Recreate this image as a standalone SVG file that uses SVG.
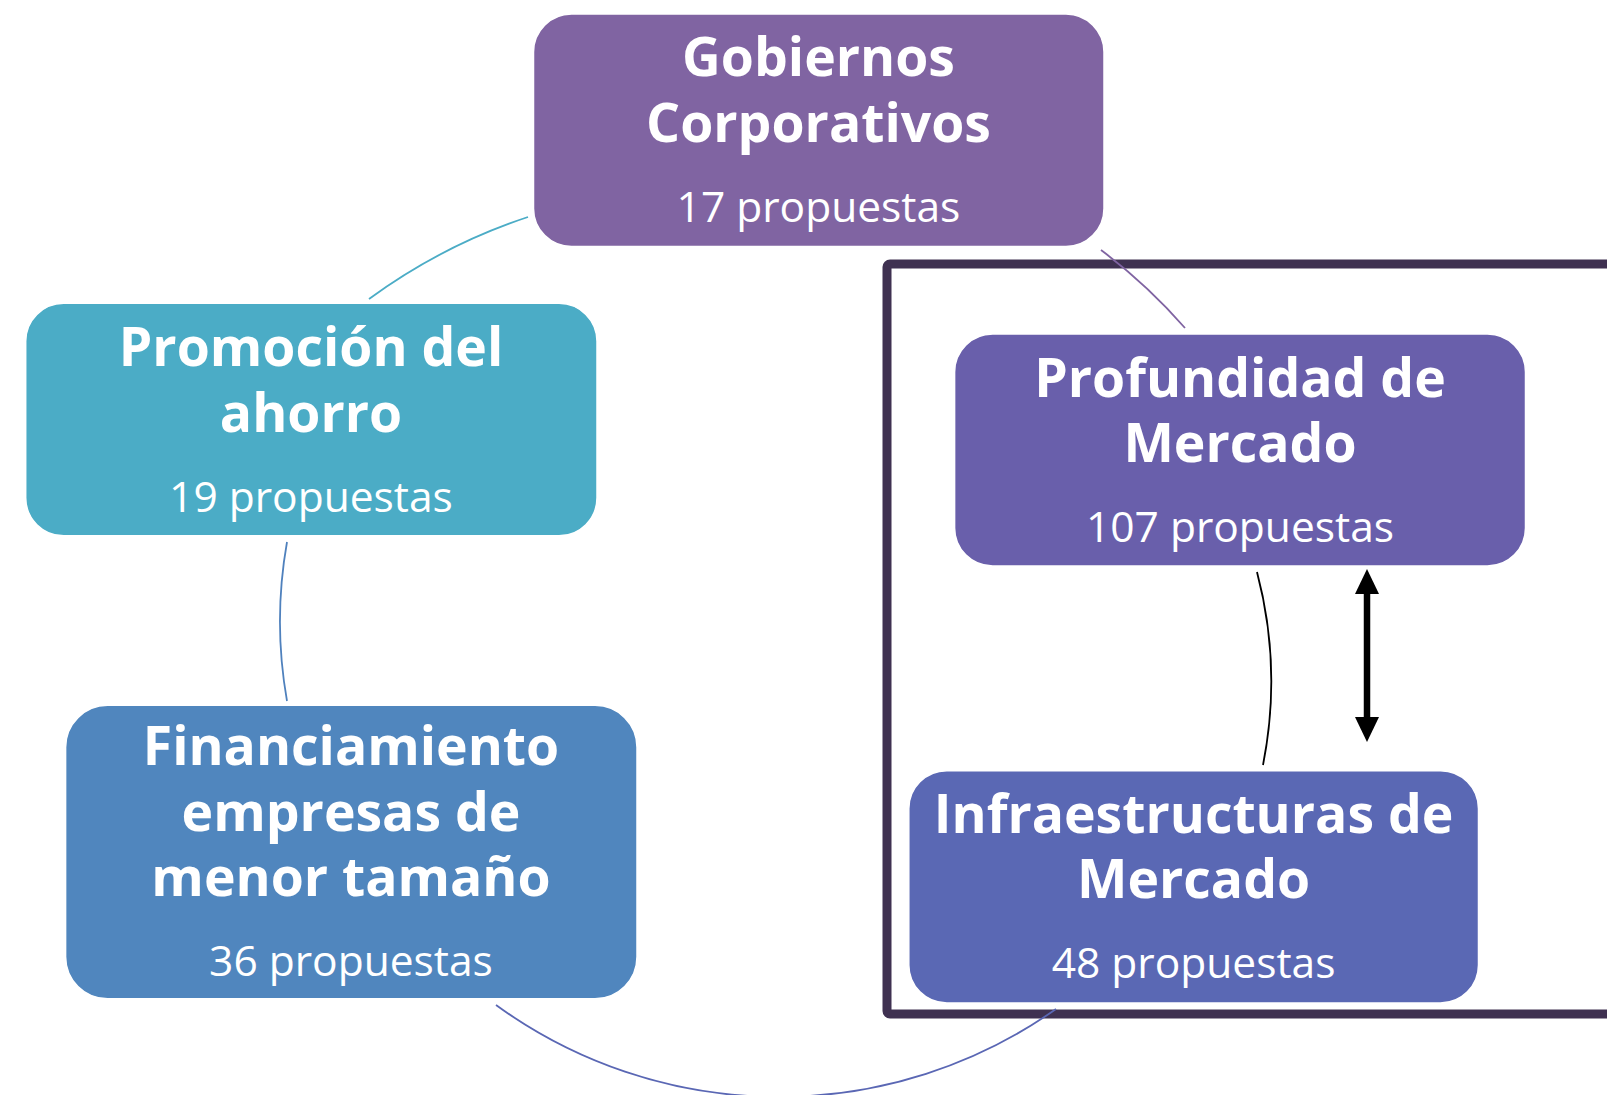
<svg xmlns="http://www.w3.org/2000/svg" width="1607" height="1095" viewBox="0 0 1607 1095">
  <style>
    .box { stroke: #ffffff; stroke-width: 1.5; }
    .t { font-family: "Open Sans", "Noto Sans", "DejaVu Sans", sans-serif; font-weight: 700; font-size: 53.5px; fill: #ffffff; text-anchor: middle; }
    .n { font-family: "Open Sans", "Noto Sans", "DejaVu Sans", sans-serif; font-weight: 400; font-size: 42.5px; fill: #ffffff; text-anchor: middle; }
    .arc { fill: none; stroke-width: 1.8; }
  </style>
  <defs>
    <marker id="head" viewBox="0 0 25 24" refX="1" refY="12" markerUnits="userSpaceOnUse" markerWidth="25" markerHeight="24" orient="auto-start-reverse">
      <path d="M0,0 L25,12 L0,24 z" fill="#000000"/>
    </marker>
  </defs>
  <rect width="1607" height="1095" fill="#ffffff"/>

  <rect id="frame" x="887" y="264" width="760" height="750" rx="3" fill="none" stroke="#3f3151" stroke-width="9"/>

  <g id="connectors">
    <path class="arc" stroke="#4bacc6" d="M369,299 A575,575 0 0 1 528,217"/>
    <path class="arc" stroke="#8064a2" d="M1101,250 A550,550 0 0 1 1185,328"/>
    <path class="arc" stroke="#000000" stroke-width="2.2" d="M1257,572 A430,430 0 0 1 1263,765"/>
    <path class="arc" stroke="#5a67b4" d="M1056,1009 A481,481 0 0 1 496,1005"/>
    <path class="arc" stroke="#4f81bd" d="M287,701 A455,455 0 0 1 287,542"/>
    <line x1="1367" y1="593" x2="1367" y2="718" stroke="#000000" stroke-width="6.5" marker-start="url(#head)" marker-end="url(#head)"/>
  </g>

  <g id="gobiernos">
    <rect class="box" x="533.5" y="14" width="570.5" height="232.5" rx="38" fill="#8064a2"/>
    <text class="t" x="818.5" y="76">Gobiernos<tspan x="818.5" dy="65.5">Corporativos</tspan></text>
    <text class="n" x="818.5" y="221.5">17 propuestas</text>
  </g>

  <g id="promocion">
    <rect class="box" x="25.7" y="303.3" width="571.3" height="232.5" rx="38" fill="#4bacc6"/>
    <text class="t" x="311" y="366">Promoción del<tspan x="311" dy="65.5">ahorro</tspan></text>
    <text class="n" x="311" y="511.5">19 propuestas</text>
  </g>

  <g id="financiamiento">
    <rect class="box" x="65.6" y="705.3" width="571.4" height="293.5" rx="42" fill="#5086be"/>
    <text class="t" x="351" y="765">Financiamiento<tspan x="351" dy="65.5">empresas de</tspan><tspan x="351" dy="65">menor tamaño</tspan></text>
    <text class="n" x="351" y="976">36 propuestas</text>
  </g>

  <g id="profundidad">
    <rect class="box" x="954.6" y="334" width="570.9" height="232" rx="38" fill="#695fab"/>
    <text class="t" x="1240" y="396.5">Profundidad de<tspan x="1240" dy="65">Mercado</tspan></text>
    <text class="n" x="1240" y="542.3">107 propuestas</text>
  </g>

  <g id="infraestructuras">
    <rect class="box" x="908.8" y="770.7" width="569.7" height="232.3" rx="38" fill="#5a68b4"/>
    <text class="t" x="1193.6" y="832.5">Infraestructuras de<tspan x="1193.6" dy="65.5">Mercado</tspan></text>
    <text class="n" x="1193.6" y="978.3">48 propuestas</text>
  </g>
</svg>
